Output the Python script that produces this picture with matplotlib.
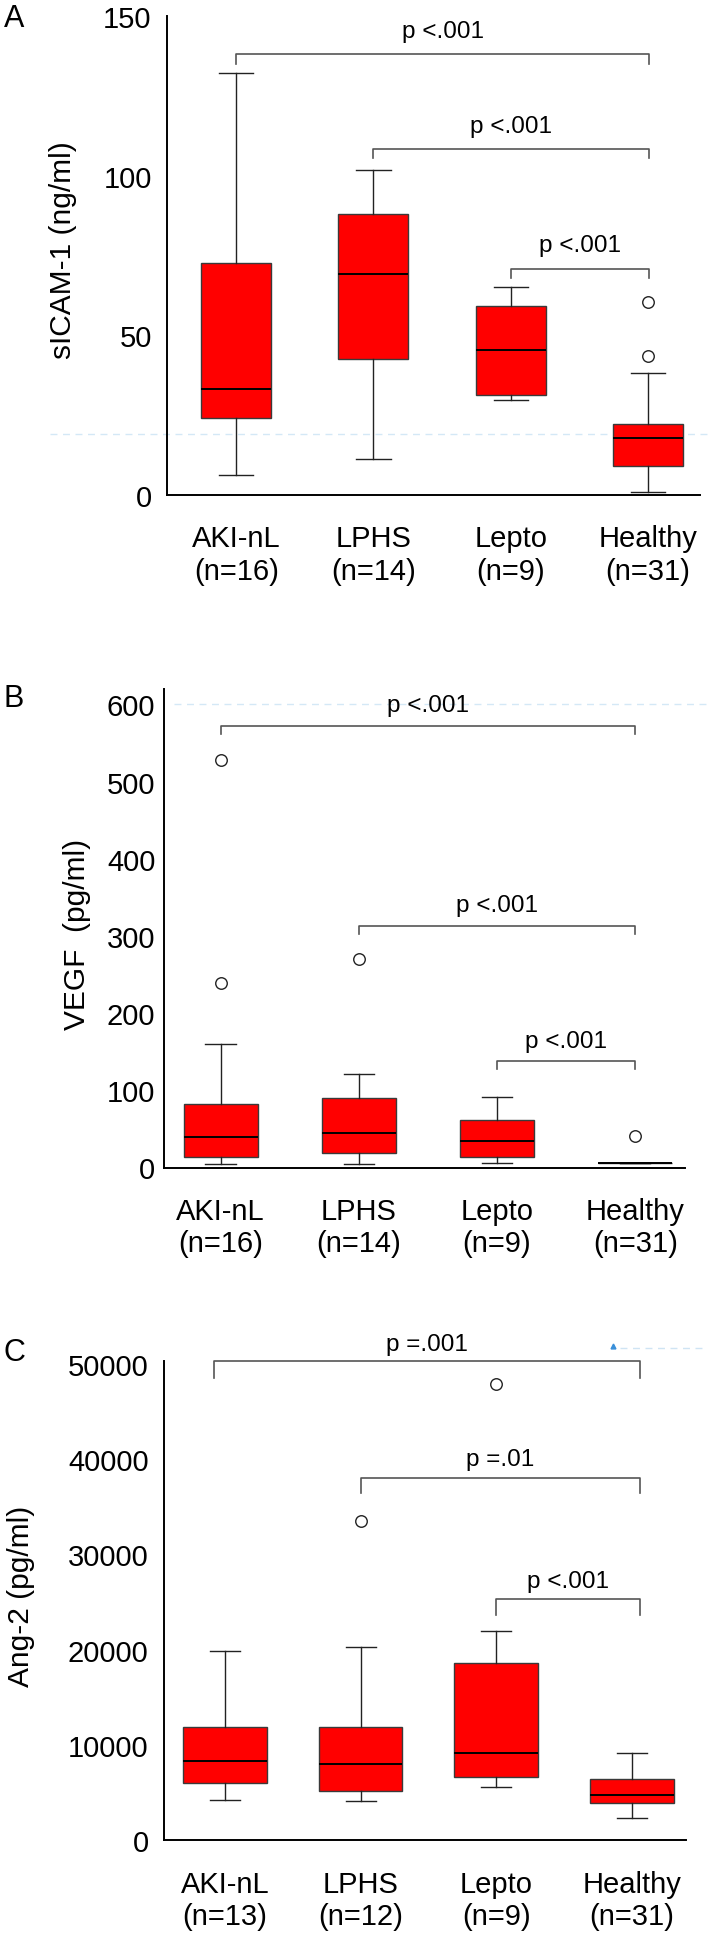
import matplotlib
matplotlib.use("Agg")
import matplotlib.pyplot as plt

plt.rcParams['font.family'] = ['Liberation Sans', 'DejaVu Sans']

# ---------------- data ----------------
groups = ["AKI-nL", "LPHS", "Lepto", "Healthy"]
n_ab = [16, 14, 9, 31]
n_c = [13, 12, 9, 31]

# Panel A: sICAM-1 (ng/ml)
sicam_whislo = [6.4, 11.2, 29.6, 1.0]
sicam_q1 = [24.1, 42.5, 31.4, 9.1]
sicam_med = [33.1, 69.1, 45.5, 17.7]
sicam_q3 = [72.5, 88.0, 59.1, 22.1]
sicam_whishi = [132.3, 101.8, 65.2, 38.1]
sicam_fliers = [[], [], [], [60.5, 43.6]]
sicam_ticks = [0, 50, 100, 150]
sicam_p = ["p <.001", "p <.001", "p <.001"]
sicam_br_left = [1, 2, 3]
sicam_br_y = [138.0, 108.2, 70.8]
sicam_br_drop = [2.9, 2.8, 2.8]
sicam_txt_y = [145.2, 115.7, 78.2]

# Panel B: VEGF (pg/ml)
vegf_whislo = [4.7, 4.7, 5.9, 5.5]
vegf_q1 = [13.5, 18.2, 13.5, 5.5]
vegf_med = [39.9, 44.5, 34.0, 5.5]
vegf_q3 = [82.1, 89.7, 61.5, 5.5]
vegf_whishi = [160.0, 120.8, 90.9, 5.5]
vegf_fliers = [[527.5, 238.6], [270.2], [], [41.0]]
vegf_ticks = [0, 100, 200, 300, 400, 500, 600]
vegf_p = ["p <.001", "p <.001", "p <.001"]
vegf_br_left = [1, 2, 3]
vegf_br_y = [572.7, 312.4, 137.7]
vegf_br_drop = [11.2, 9.9, 10.5]
vegf_txt_y = [599.6, 340.0, 164.0]

# Panel C: Ang-2 (pg/ml)
ang_whislo = [4260, 4120, 5580, 2370]
ang_q1 = [6050, 5160, 6620, 3880]
ang_med = [8370, 8040, 9220, 4730]
ang_q3 = [11920, 11920, 18590, 6480]
ang_whishi = [19900, 20340, 21950, 9220]
ang_fliers = [[], [33540], [47870], []]
ang_ticks = [0, 10000, 20000, 30000, 40000, 50000]
ang_p = ["p =.001", "p =.01", "p <.001"]
ang_br_left = [0.92, 2, 3]
ang_br_y = [50280, 38030, 25300]
ang_br_drop = [1800, 1610, 1650]
ang_txt_y = [52130, 39970, 27200]

# ---------------- figure ----------------
W, H = 709, 1940
DPI = 100
fig = plt.figure(figsize=(W / DPI, H / DPI), dpi=DPI)
fig.patch.set_facecolor('white')


def px_axes(left, top, right, bottom):
    return fig.add_axes([left / W, 1 - bottom / H, (right - left) / W, (bottom - top) / H])


RED = '#ff0000'
FS = 21


def panel(ax, whislo, q1, med, q3, whishi, fliers, counts, width, capw,
          xlim, ylim, yticks, ypad,
          ptexts, br_left, br_right, br_y, br_drop, txt_y):
    stats = []
    for i in range(4):
        stats.append(dict(med=med[i], q1=q1[i], q3=q3[i], whislo=whislo[i],
                          whishi=whishi[i], fliers=fliers[i]))
    ax.bxp(stats, positions=[1, 2, 3, 4], widths=width, capwidths=capw,
           patch_artist=True, showfliers=True, manage_ticks=False,
           boxprops=dict(facecolor=RED, edgecolor='#3a3a3a', linewidth=1.0),
           medianprops=dict(color='black', linewidth=1.4),
           whiskerprops=dict(color='#222222', linewidth=1.0),
           capprops=dict(color='#222222', linewidth=1.0),
           flierprops=dict(marker='o', markerfacecolor='white',
                           markeredgecolor='#222222', markersize=8.3,
                           markeredgewidth=1.0, linestyle='none'))
    ax.set_xlim(*xlim)
    ax.set_ylim(*ylim)
    ax.set_xticks([1, 2, 3, 4])
    ax.set_xticklabels([f"{g}\n(n={n})" for g, n in zip(groups, counts)],
                       fontsize=FS, linespacing=1.2)
    ax.set_yticks(yticks)
    ax.set_yticklabels([str(t) for t in yticks], fontsize=FS)
    ax.tick_params(axis='x', length=0, pad=21)
    ax.tick_params(axis='y', length=0, pad=ypad)
    for s in ['top', 'right']:
        ax.spines[s].set_visible(False)
    for s in ['left', 'bottom']:
        ax.spines[s].set_linewidth(1.4)
        ax.spines[s].set_color('black')
    for t, xl, y, d, ty in zip(ptexts, br_left, br_y, br_drop, txt_y):
        ax.plot([xl, xl, br_right, br_right], [y - d, y, y, y - d],
                color='#555555', linewidth=1.2, clip_on=False)
        ax.text((xl + br_right) / 2, ty, t, ha='center', va='center',
                fontsize=17.5, color='black', clip_on=False)


# Panel A
axA = px_axes(167, 17, 700, 496)
panel(axA, sicam_whislo, sicam_q1, sicam_med, sicam_q3, sicam_whishi, sicam_fliers,
      n_ab, 0.51, 0.25, (0.495, 4.38), (0, 150), sicam_ticks, 11,
      sicam_p, sicam_br_left, 4.01, sicam_br_y, sicam_br_drop, sicam_txt_y)
axA.axhline(19.0, xmin=-0.22, xmax=1.017, color='#d4e8f6', linestyle=(0, (5, 4)),
            linewidth=1.0, clip_on=False, zorder=0)

# Panel B
axB = px_axes(163.7, 690, 685, 1168.5)
panel(axB, vegf_whislo, vegf_q1, vegf_med, vegf_q3, vegf_whishi, vegf_fliers,
      n_ab, 0.535, 0.22, (0.588, 4.36), (0, 620), vegf_ticks, 6,
      vegf_p, vegf_br_left, 4.0, vegf_br_y, vegf_br_drop, vegf_txt_y)
axB.axhline(600, xmin=0.02, xmax=1.046, color='#d4e8f6', linestyle=(0, (5, 4)),
            linewidth=1.0, clip_on=False, zorder=0)

# Panel C
axC = px_axes(164, 1362, 686.4, 1841.4)
panel(axC, ang_whislo, ang_q1, ang_med, ang_q3, ang_whishi, ang_fliers,
      n_c, 0.617, 0.22, (0.552, 4.40), (0, 50300), ang_ticks, 11,
      ang_p, ang_br_left, 4.06, ang_br_y, ang_br_drop, ang_txt_y)
axC.axhline(51650, xmin=0.873, xmax=1.04, color='#cfe4f4', linestyle=(0, (5, 4)),
            linewidth=1.0, clip_on=False, zorder=0)
axC.plot([0.859], [51850], marker='^', color='#3a8fd9', markersize=3.5,
         transform=axC.get_yaxis_transform(), clip_on=False)

# Y-axis titles (centred at their positions in the reference)
for label, xpix, ypix, fs in [("sICAM-1 (ng/ml)", 63, 250, 21.5),
                              ("VEGF  (pg/ml)", 77, 934, 21.5),
                              ("Ang-2 (pg/ml)", 21, 1596, 21.5)]:
    fig.text(xpix / W, 1 - ypix / H, label, rotation=90, fontsize=fs,
             ha='center', va='center')

# Panel letters
for letter, ypix in [("A", 19), ("B", 699), ("C", 1353)]:
    fig.text(14 / W, 1 - ypix / H, letter, fontsize=22, ha='center', va='center')

fig.savefig("out.png", dpi=DPI, facecolor='white')
